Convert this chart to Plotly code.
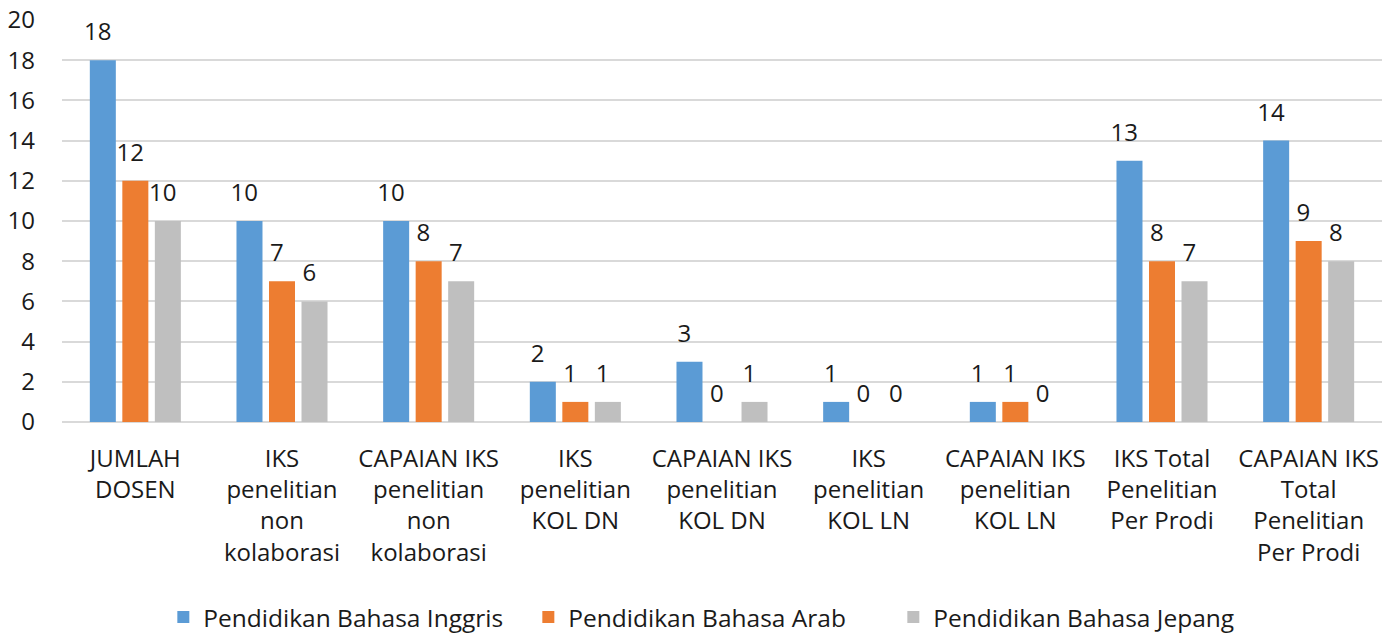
import plotly.graph_objects as go

categories = [
    "JUMLAH<br>DOSEN",
    "IKS<br>penelitian<br>non<br>kolaborasi",
    "CAPAIAN IKS<br>penelitian<br>non<br>kolaborasi",
    "IKS<br>penelitian<br>KOL DN",
    "CAPAIAN IKS<br>penelitian<br>KOL DN",
    "IKS<br>penelitian<br>KOL LN",
    "CAPAIAN IKS<br>penelitian<br>KOL LN",
    "IKS Total<br>Penelitian<br>Per Prodi",
    "CAPAIAN IKS<br>Total<br>Penelitian<br>Per Prodi",
]
inggris = [18, 10, 10, 2, 3, 1, 1, 13, 14]
arab = [12, 7, 8, 1, 0, 0, 1, 8, 9]
jepang = [10, 6, 7, 1, 1, 0, 0, 7, 8]

series = [
    ("Pendidikan Bahasa Inggris", inggris, "#5B9BD5"),
    ("Pendidikan Bahasa Arab", arab, "#ED7D31"),
    ("Pendidikan Bahasa Jepang", jepang, "#BFBFBF"),
]

FONT = "Open Sans, Noto Sans, sans-serif"
TXT = "#1a1a1a"
FS = 24
# invisible subscript pushes the value label a little higher above the bar
LABEL = "%{y}<sub><span style='font-size:40px'>\u00a0</span></sub>"

fig = go.Figure()
for name, vals, color in series:
    fig.add_trace(go.Bar(
        x=categories, y=vals, name=name,
        marker=dict(color=color, line=dict(width=0)),
        text=vals,
        texttemplate=LABEL,
        textposition="outside",
        constraintext="none",
        textfont=dict(family=FONT, size=FS, color=TXT),
        cliponaxis=False,
    ))

# page body adds an 8px offset, so the figure is 8px smaller and margins shifted
fig.update_layout(
    width=1389, height=626,
    margin=dict(l=54, r=15, t=12, b=212, autoexpand=False),
    paper_bgcolor="white", plot_bgcolor="white",
    barmode="group", bargap=0.335, bargroupgap=0.2,
    font=dict(family=FONT, size=FS, color=TXT),
    showlegend=True,
    legend=dict(orientation="h", xref="container", x=0.506, xanchor="center",
                yref="container", y=0.027, yanchor="middle",
                font=dict(family=FONT, size=24.5, color=TXT), entrywidth=320,
                itemsizing="constant"),
)
fig.update_xaxes(showgrid=False, showline=False, ticks="", tickangle=0, automargin=False,
                 ticklabelstandoff=20, tickfont=dict(size=FS), ticklabeloverflow="allow")
fig.update_yaxes(range=[0, 20], dtick=2, showgrid=True, gridcolor="#D9D9D9", gridwidth=2,
                 zeroline=True, zerolinecolor="#D9D9D9", zerolinewidth=2, automargin=False,
                 showline=False, ticks="", ticklabelstandoff=26, tickfont=dict(size=FS),
                 ticklabeloverflow="allow")

fig.write_html("out.html")
